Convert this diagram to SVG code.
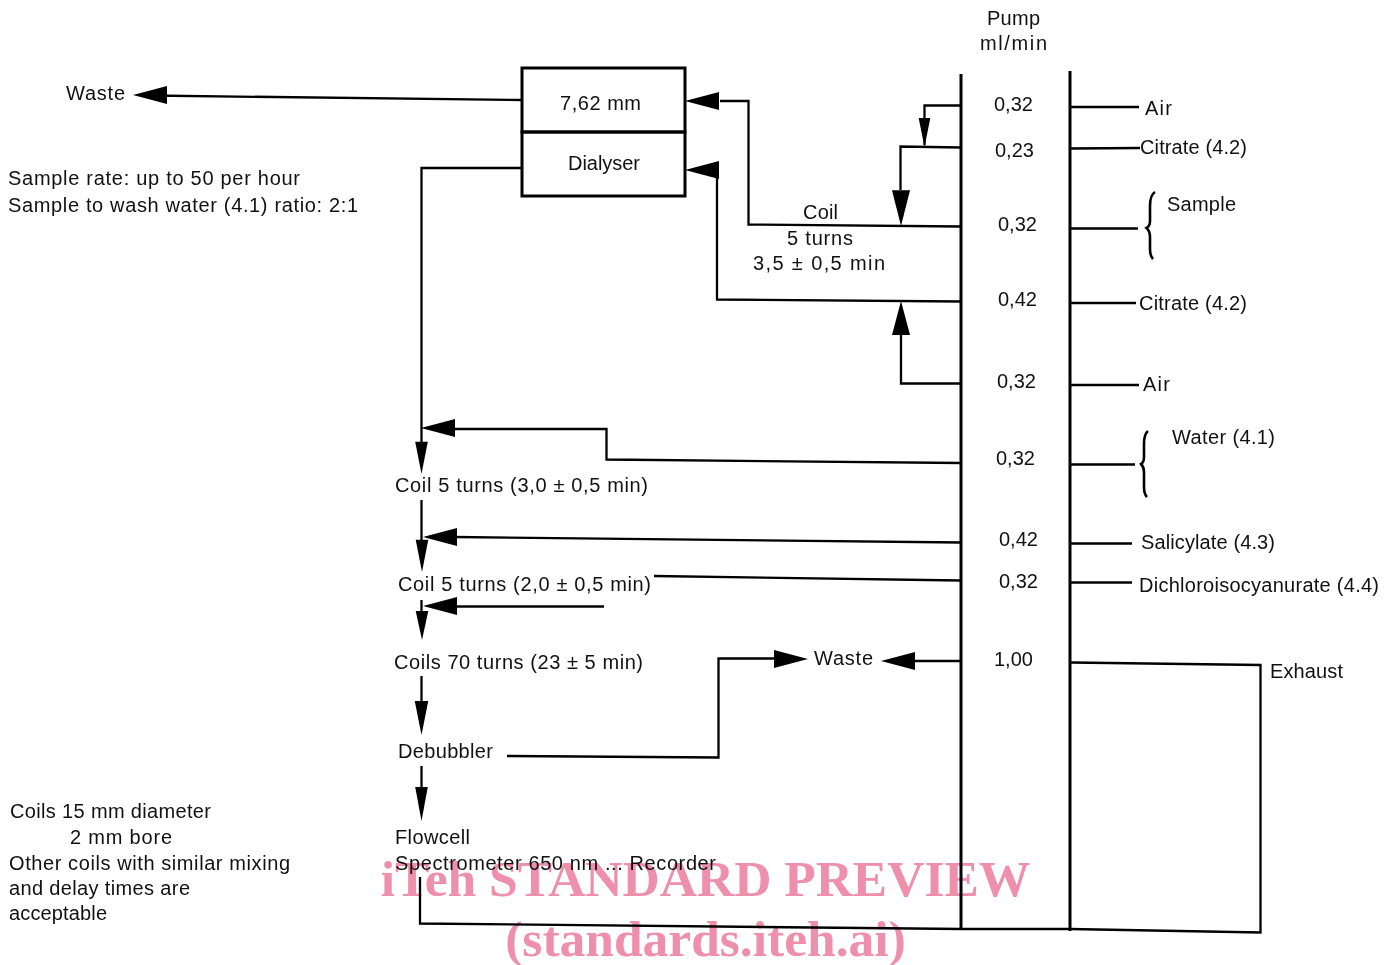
<svg xmlns="http://www.w3.org/2000/svg" width="1394" height="965" viewBox="0 0 1394 965">
<defs>
<style>
text{font-family:"Liberation Sans",Arial,sans-serif;font-size:20px;fill:#111}
.w{font-family:"Liberation Serif",serif;font-weight:bold;font-size:51.500px;fill:#ee8fac;mix-blend-mode:multiply;text-anchor:middle}
.c{fill:none;stroke:#000;stroke-width:2.300}
.t{fill:none;stroke:#000;stroke-width:3}
.b{fill:none;stroke:#000;stroke-width:2.600}
.a{fill:#000;stroke:none}
</style>
<polygon id="L" points="0,0 34,-9 34,9"/>
</defs>
<rect width="1394" height="965" fill="#fff"/>
<g id="connectors">
<path class="t" d="M961 74V930M1070 71V931"/>
<path class="c" d="M522 100L150 95.500"/>
<path class="c" d="M720 101H748.500V224.500L961 226.500"/>
<path class="c" d="M961 105.500H924.500V145"/>
<path class="c" d="M961 147.500L900.500 146.500V190"/>
<path class="c" d="M961 301.500L717 299.500V170H705"/>
<path class="c" d="M961 383.500H901V330"/>
<path class="c" d="M522 168H421.500V450"/>
<path class="c" d="M961 463L606.500 459.500V429H455"/>
<path class="c" d="M421.500 500V545"/>
<path class="c" d="M961 542.500L455 537"/>
<path class="c" d="M961 580.500L654 576"/>
<path class="c" d="M604 606.500H455"/>
<path class="c" d="M421.500 600V615"/>
<path class="c" d="M421.500 676V710"/>
<path class="c" d="M421.500 766V790"/>
<path class="c" d="M507 756L718.500 757.500V658.500H780"/>
<path class="c" d="M961 661H912"/>
<path class="c" d="M420 877V923.500L961 929H1070L1260.500 932.500V665L1071 662.500"/>
<path class="c" d="M1071 107H1139M1071 148.500L1140 148M1071 228.500H1138M1071 303H1136M1071 385H1139M1071 464.500H1135M1071 543.500H1132M1071 582.500H1132"/>
<path class="b" d="M1155 192Q1150 195 1150 206V221Q1150 226 1146.500 228Q1150 231 1150 237V249Q1150 256 1153 259"/>
<path class="b" d="M1148 431Q1144 434 1144 444V457Q1144 462 1141 464Q1144 467 1144 472V487Q1144 494 1147 497"/>
<g class="a">
<use href="#L" transform="translate(133,95)"/>
<use href="#L" transform="translate(685,101)"/>
<use href="#L" transform="translate(685,170)"/>
<use href="#L" transform="translate(421,428)"/>
<use href="#L" transform="translate(423,537)"/>
<use href="#L" transform="translate(423,606)"/>
<use href="#L" transform="translate(881,661)"/>
<use href="#L" transform="translate(808,659) rotate(180)"/>
<use href="#L" transform="translate(924.500,147) rotate(-90) scale(.85,.65)"/>
<use href="#L" transform="translate(901,226) rotate(-90) scale(1.050,1)"/>
<use href="#L" transform="translate(901,301) rotate(90)"/>
<use href="#L" transform="translate(421.500,474) rotate(-90) scale(.95,.7)"/>
<use href="#L" transform="translate(422,572) rotate(-90) scale(.95,.7)"/>
<use href="#L" transform="translate(422,640) rotate(-90) scale(.85,.7)"/>
<use href="#L" transform="translate(421.500,735) rotate(-90) scale(1,.75)"/>
<use href="#L" transform="translate(421.500,821) rotate(-90) scale(1,.7)"/>
</g>
</g>
<g id="dialyser">
<rect class="t" x="522" y="68" width="163" height="64"/>
<rect class="t" x="522" y="132" width="163" height="64"/>
<text x="560" y="110" textLength="81">7,62 mm</text>
<text x="568" y="170" textLength="72">Dialyser</text>
</g>
<g id="labels">
<text x="987" y="25" textLength="53">Pump</text>
<text x="980" y="50" textLength="67">ml/min</text>
<text x="66" y="100" textLength="59">Waste</text>
<text x="8" y="185" textLength="292">Sample rate: up to 50 per hour</text>
<text x="8" y="212" textLength="350">Sample to wash water (4.1) ratio: 2:1</text>
<text x="803" y="219" textLength="35">Coil</text>
<text x="787" y="245" textLength="66">5 turns</text>
<text x="753" y="270" textLength="132">3,5 ± 0,5 min</text>
<text x="994" y="111">0,32</text>
<text x="995" y="157">0,23</text>
<text x="998" y="231">0,32</text>
<text x="998" y="306">0,42</text>
<text x="997" y="388">0,32</text>
<text x="996" y="465">0,32</text>
<text x="999" y="546">0,42</text>
<text x="999" y="588">0,32</text>
<text x="994" y="666">1,00</text>
<text x="1145" y="115" textLength="27">Air</text>
<text x="1140" y="154" textLength="107">Citrate (4.2)</text>
<text x="1167" y="211" textLength="69">Sample</text>
<text x="1139" y="310" textLength="108">Citrate (4.2)</text>
<text x="1143" y="391" textLength="27">Air</text>
<text x="1172" y="444" textLength="103">Water (4.1)</text>
<text x="1141" y="549" textLength="134">Salicylate (4.3)</text>
<text x="1139" y="592" textLength="240">Dichloroisocyanurate (4.4)</text>
<text x="1270" y="678" textLength="73">Exhaust</text>
<text x="395" y="492" textLength="253">Coil 5 turns (3,0 ± 0,5 min)</text>
<text x="398" y="591" textLength="253">Coil 5 turns (2,0 ± 0,5 min)</text>
<text x="394" y="669" textLength="249">Coils 70 turns (23 ± 5 min)</text>
<text x="814" y="665" textLength="59">Waste</text>
<text x="398" y="758" textLength="95">Debubbler</text>
<text x="395" y="844" textLength="75">Flowcell</text>
<text x="395" y="870" textLength="321">Spectrometer 650 nm ... Recorder</text>
<text x="10" y="818" textLength="201">Coils 15 mm diameter</text>
<text x="70" y="844" textLength="102">2 mm bore</text>
<text x="9" y="870" textLength="281">Other coils with similar mixing</text>
<text x="9" y="895" textLength="181">and delay times are</text>
<text x="9" y="920" textLength="98">acceptable</text>
</g>
<g id="watermark">
<text class="w" x="705.500" y="896">iTeh STANDARD PREVIEW</text>
<text class="w" x="705.500" y="956">(standards.iteh.ai)</text>
</g>
</svg>
